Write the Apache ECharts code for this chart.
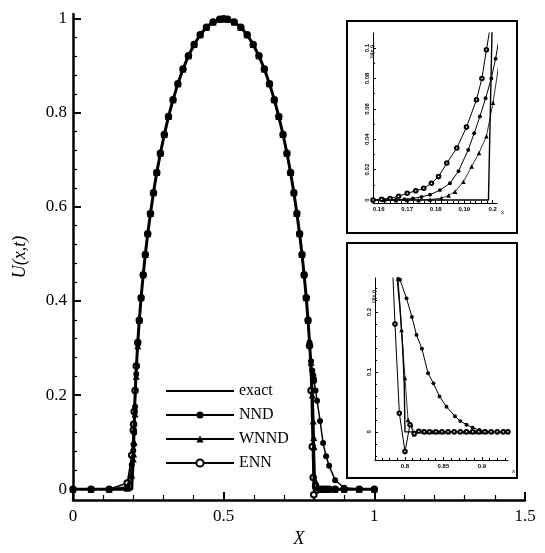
<!DOCTYPE html>
<html>
<head>
<meta charset="utf-8">
<script src="https://cdn.jsdelivr.net/npm/echarts@6/dist/echarts.min.js"></script>
<style>html,body{margin:0;padding:0;background:#fff}#c{width:545px;height:553px}</style>
</head>
<body>
<div id="c"></div>
<script>
// ---------- main plot data ----------
const xMain = [0, 0.06, 0.12, 0.18, 0.195, 0.2, 0.201, 0.203, 0.206, 0.21, 0.215, 0.22, 0.226, 0.233, 0.24, 0.248, 0.257, 0.267, 0.278, 0.29, 0.303, 0.317, 0.332, 0.348, 0.365, 0.383, 0.402, 0.422, 0.443, 0.465, 0.487, 0.5, 0.513, 0.535, 0.557, 0.578, 0.598, 0.617, 0.635, 0.652, 0.668, 0.683, 0.697, 0.71, 0.722, 0.733, 0.743, 0.752, 0.76, 0.767, 0.774, 0.78, 0.785, 0.79, 0.794, 0.797, 0.799, 0.8, 0.805, 0.81, 0.82, 0.83, 0.84, 0.85, 0.87, 0.9, 0.95, 1.0];
const exactU = [0, 0, 0, 0, 0, 0, 0.082, 0.141, 0.199, 0.256, 0.312, 0.359, 0.407, 0.456, 0.499, 0.543, 0.586, 0.630, 0.673, 0.714, 0.754, 0.792, 0.828, 0.862, 0.893, 0.921, 0.945, 0.966, 0.982, 0.993, 0.999, 1.0, 0.999, 0.993, 0.982, 0.966, 0.945, 0.921, 0.893, 0.862, 0.828, 0.792, 0.754, 0.714, 0.673, 0.630, 0.586, 0.543, 0.499, 0.456, 0.407, 0.359, 0.312, 0.256, 0.199, 0.141, 0.082, 0, 0, 0, 0, 0, 0, 0, 0, 0, 0, 0];
const nndU = [0, 0, 0, 0.005, 0.052, 0.082, 0.095, 0.12, 0.175, 0.245, 0.308, 0.359, 0.407, 0.456, 0.499, 0.543, 0.586, 0.630, 0.673, 0.714, 0.754, 0.792, 0.828, 0.862, 0.893, 0.921, 0.945, 0.966, 0.982, 0.993, 0.999, 1.0, 0.999, 0.993, 0.982, 0.966, 0.945, 0.921, 0.893, 0.862, 0.828, 0.792, 0.754, 0.714, 0.673, 0.630, 0.586, 0.543, 0.499, 0.456, 0.407, 0.359, 0.312, 0.272, 0.252, 0.242, 0.235, 0.23, 0.21, 0.188, 0.145, 0.098, 0.07, 0.05, 0.019, 0.003, 0, 0];
const wnndU = [0, 0, 0, 0.002, 0.03, 0.064, 0.075, 0.1, 0.16, 0.24, 0.305, 0.359, 0.407, 0.456, 0.499, 0.543, 0.586, 0.630, 0.673, 0.714, 0.754, 0.792, 0.828, 0.862, 0.893, 0.921, 0.945, 0.966, 0.982, 0.993, 0.999, 1.0, 0.999, 0.993, 0.982, 0.966, 0.945, 0.921, 0.893, 0.862, 0.828, 0.792, 0.754, 0.714, 0.673, 0.630, 0.586, 0.543, 0.499, 0.456, 0.407, 0.359, 0.312, 0.27, 0.2, 0.145, 0.11, 0.09, 0.018, 0.004, 0, 0, 0, 0, 0, 0, 0, 0];
const ennU = [0, 0, 0, 0.013, 0.072, 0.125, 0.138, 0.165, 0.21, 0.262, 0.312, 0.359, 0.407, 0.456, 0.499, 0.543, 0.586, 0.630, 0.673, 0.714, 0.754, 0.792, 0.828, 0.862, 0.893, 0.921, 0.945, 0.966, 0.982, 0.993, 0.999, 1.0, 0.999, 0.993, 0.982, 0.966, 0.945, 0.921, 0.893, 0.862, 0.828, 0.792, 0.754, 0.714, 0.673, 0.630, 0.586, 0.543, 0.499, 0.456, 0.407, 0.359, 0.305, 0.21, 0.09, 0.025, -0.012, -0.025, 0.006, -0.002, 0, 0, 0, 0, 0, 0, 0, 0];

// ---------- upper inset (left foot, x 0.16..0.2) ----------
const exactTop = [[0.158, 0], [0.1985, 0], [0.1998, 0.115]];
const nndTop = [[0.158, 0], [0.162, 0], [0.166, 0], [0.169, 0.0005], [0.172, 0.001], [0.175, 0.002], [0.178, 0.0035], [0.1815, 0.0065], [0.185, 0.011], [0.188, 0.019], [0.1914, 0.033], [0.1935, 0.044], [0.1955, 0.055], [0.1975, 0.067], [0.1995, 0.08], [0.201, 0.093], [0.2022, 0.106]];
const wnndTop = [[0.158, 0], [0.162, 0], [0.166, 0], [0.17, 0], [0.174, 0], [0.178, 0.0003], [0.182, 0.0012], [0.1845, 0.003], [0.1868, 0.0055], [0.1897, 0.012], [0.1926, 0.022], [0.1952, 0.031], [0.1978, 0.042], [0.2001, 0.064], [0.2018, 0.085], [0.2036, 0.108]];
const ennTop = [[0.158, 0], [0.161, 0.0005], [0.164, 0.001], [0.167, 0.0025], [0.170, 0.0044], [0.173, 0.006], [0.1758, 0.0077], [0.1785, 0.011], [0.181, 0.0154], [0.1839, 0.0243], [0.1874, 0.0342], [0.1908, 0.048], [0.1943, 0.066], [0.1962, 0.08], [0.1978, 0.099], [0.1992, 0.115]];
const topXLabels = [0.16, 0.17, 0.18, 0.19, 0.2];
const topYLabels = [0, 0.02, 0.04, 0.06, 0.08, 0.1];

// ---------- lower inset (shock, x 0.8..0.9) ----------
const exactBot = [[0.785, 0.312], [0.79, 0.256], [0.794, 0.199], [0.797, 0.141], [0.799, 0.082], [0.8, 0], [0.934, 0]];
const nndBot = [[0.79, 0.27], [0.7935, 0.254], [0.802, 0.223], [0.809, 0.192], [0.815, 0.162], [0.822, 0.139], [0.830, 0.098], [0.837, 0.081], [0.845, 0.059], [0.854, 0.042], [0.865, 0.026], [0.872, 0.018], [0.880, 0.012], [0.888, 0.007], [0.897, 0.003], [0.905, 0.001], [0.913, 0], [0.92, 0], [0.927, 0], [0.934, 0]];
const wnndBot = [[0.789, 0.30], [0.791, 0.256], [0.7955, 0.17], [0.800, 0.09], [0.804, 0.02], [0.808, 0.012], [0.812, -0.004], [0.818, 0.002], [0.824, 0], [0.83, 0], [0.836, 0], [0.843, 0], [0.85, 0], [0.857, 0], [0.864, 0], [0.871, 0], [0.878, 0], [0.885, 0], [0.892, 0], [0.899, 0], [0.906, 0], [0.913, 0], [0.92, 0], [0.927, 0], [0.934, 0]];
const ennBot = [[0.783, 0.30], [0.787, 0.18], [0.7927, 0.031], [0.8, -0.033], [0.8065, 0.012], [0.812, -0.003], [0.818, 0.001], [0.825, 0], [0.832, 0], [0.84, 0], [0.848, 0], [0.856, 0], [0.864, 0], [0.872, 0], [0.88, 0], [0.888, 0], [0.896, 0], [0.904, 0], [0.912, 0], [0.92, 0], [0.928, 0], [0.934, 0]];
const botXLabels = [0.8, 0.85, 0.9];
const botYLabels = [0, 0.1, 0.2];

// main ticks
const mainYLabels = [0, 0.2, 0.4, 0.6, 0.8, 1];
const mainYMinor = [0.04, 0.08, 0.12, 0.16, 0.24, 0.28, 0.32, 0.36, 0.44, 0.48, 0.52, 0.56, 0.64, 0.68, 0.72, 0.76, 0.84, 0.88, 0.92, 0.96];

const serif = 'Liberation Serif';
const pair = (u) => xMain.map((x, i) => [x, u[i]]);
function minorList(a, b, step) { const r = []; for (let v = a; v <= b + 1e-9; v += step) r.push(+v.toFixed(4)); return r; }

const black = '#000';
function mkAxis(o) {
  return Object.assign({
    type: 'value', splitLine: { show: false },
    axisLine: { show: true, onZero: false, lineStyle: { color: black, width: 1 } },
    axisTick: { show: true, inside: true, lineStyle: { color: black } },
    axisLabel: { color: black }
  }, o);
}
const hiddenLine = { show: false, onZero: false };

const insetLabel = { color: black, fontSize: 6, fontFamily: 'Liberation Sans', fontWeight: 'bold', margin: 3 };

const xAxis = [
  mkAxis({ gridIndex: 0, position: 'bottom', min: 0, max: 1.5, interval: 0.5,
    axisLine: { show: true, onZero: false, lineStyle: { color: black, width: 2.5 } },
    axisTick: { show: true, inside: true, length: 8, lineStyle: { color: black, width: 2 } },
    minorTick: { show: true, splitNumber: 5, length: 5, lineStyle: { color: black, width: 1.2 } },
    axisLabel: { color: black, fontFamily: serif, fontSize: 17, margin: 8 },
    name: 'X', nameLocation: 'middle', nameGap: 30,
    nameTextStyle: { fontFamily: serif, fontSize: 18, fontStyle: 'italic', color: black } }),
  mkAxis({ gridIndex: 1, position: 'bottom', min: 0.158, max: 0.2015,
    axisTick: { show: true, inside: true, length: 3, customValues: topXLabels, lineStyle: { color: black } },
    axisLabel: Object.assign({ customValues: topXLabels }, insetLabel),
    name: 'x', nameLocation: 'end', nameGap: 4, nameTextStyle: { fontSize: 6, color: black, verticalAlign: 'top', padding: [6, 0, 0, 0] } }),
  mkAxis({ gridIndex: 1, position: 'bottom', min: 0.158, max: 0.2015, axisLine: hiddenLine,
    axisTick: { show: true, inside: true, length: 2, customValues: minorList(0.16, 0.2, 0.002), lineStyle: { color: black } },
    axisLabel: { show: false } }),
  mkAxis({ gridIndex: 2, position: 'bottom', min: 0.761, max: 0.934,
    axisTick: { show: true, inside: true, length: 3, customValues: botXLabels, lineStyle: { color: black } },
    axisLabel: Object.assign({ customValues: botXLabels }, insetLabel),
    name: 'x', nameLocation: 'end', nameGap: 4, nameTextStyle: { fontSize: 6, color: black, verticalAlign: 'top', padding: [8, 0, 0, 0] } }),
  mkAxis({ gridIndex: 2, position: 'bottom', min: 0.761, max: 0.934, axisLine: hiddenLine,
    axisTick: { show: true, inside: true, length: 2, customValues: minorList(0.77, 0.93, 0.01), lineStyle: { color: black } },
    axisLabel: { show: false } })
];

const yAxis = [
  mkAxis({ gridIndex: 0, min: -0.023, max: 1.01, position: 'left',
    axisLine: { show: true, onZero: false, lineStyle: { color: black, width: 2.5 } },
    axisTick: { show: true, inside: true, length: 8, customValues: mainYLabels, lineStyle: { color: black, width: 2 } },
    axisLabel: { color: black, fontFamily: serif, fontSize: 17, margin: 6, customValues: mainYLabels },
    name: 'U(x,t)', nameLocation: 'middle', nameGap: 44, nameRotate: 90,
    nameTextStyle: { fontFamily: serif, fontSize: 18, fontStyle: 'italic', color: black } }),
  mkAxis({ gridIndex: 0, min: -0.023, max: 1.01, position: 'left', axisLine: hiddenLine,
    axisTick: { show: true, inside: true, length: 4, customValues: mainYMinor, lineStyle: { color: black, width: 1.2 } },
    axisLabel: { show: false } }),
  mkAxis({ gridIndex: 1, min: -0.002, max: 0.11, position: 'left',
    axisTick: { show: true, inside: true, length: 3, customValues: topYLabels, lineStyle: { color: black } },
    axisLabel: Object.assign({ customValues: topYLabels, rotate: 90 }, insetLabel),
    name: 'U(x,t)', nameLocation: 'end', nameGap: -12, nameRotate: 90,
    nameTextStyle: { fontSize: 5, color: black, fontWeight: 'bold', align: 'right', padding: [0, 0, 14, 0] } }),
  mkAxis({ gridIndex: 1, min: -0.002, max: 0.11, position: 'left', axisLine: hiddenLine,
    axisTick: { show: true, inside: true, length: 2, customValues: minorList(0.01, 0.1, 0.01), lineStyle: { color: black } },
    axisLabel: { show: false } }),
  mkAxis({ gridIndex: 2, min: -0.047, max: 0.257, position: 'left',
    axisTick: { show: true, inside: true, length: 3, customValues: botYLabels, lineStyle: { color: black } },
    axisLabel: Object.assign({ customValues: botYLabels, rotate: 90 }, insetLabel),
    name: 'U(x,t)', nameLocation: 'end', nameGap: -12, nameRotate: 90,
    nameTextStyle: { fontSize: 5, color: black, fontWeight: 'bold', align: 'right', padding: [0, 0, 14, 0] } }),
  mkAxis({ gridIndex: 2, min: -0.047, max: 0.257, position: 'left', axisLine: hiddenLine,
    axisTick: { show: true, inside: true, length: 2, customValues: minorList(-0.04, 0.25, 0.02), lineStyle: { color: black } },
    axisLabel: { show: false } })
];

function lineSeries(name, data, xi, yi, kind, big, z) {
  const s = { type: 'line', name, data, xAxisIndex: xi, yAxisIndex: yi, clip: true,
    color: black, z: z, animation: false, silent: true };
  const k = big ? 1 : 0.65;
  if (kind === 'exact') {
    Object.assign(s, { symbol: 'none', lineStyle: { color: black, width: big ? 3 : 1.4 } });
  } else if (kind === 'nnd') {
    Object.assign(s, { symbol: 'circle', symbolSize: 6 * k, showAllSymbol: true,
      lineStyle: { color: black, width: big ? 1.5 : 1 }, itemStyle: { color: black } });
  } else if (kind === 'wnnd') {
    Object.assign(s, { symbol: 'triangle', symbolSize: 7 * k, showAllSymbol: true,
      lineStyle: { color: black, width: big ? 1 : 0.8 }, itemStyle: { color: black } });
  } else {
    Object.assign(s, { symbol: 'emptyCircle', symbolSize: 5.5 * k, showAllSymbol: true,
      lineStyle: { color: black, width: big ? 1.5 : 1 }, itemStyle: { color: black, borderWidth: 1.2 } });
  }
  return s;
}

// legend order taken from legend.data; drawing order via z (ENN lowest, NND on top of markers)
const series = [
  lineSeries('exact', pair(exactU), 0, 0, 'exact', true, 6),
  lineSeries('NND', pair(nndU), 0, 0, 'nnd', true, 5),
  lineSeries('WNND', pair(wnndU), 0, 0, 'wnnd', true, 4),
  lineSeries('ENN', pair(ennU), 0, 0, 'enn', true, 3),
  lineSeries('exact', exactTop, 1, 2, 'exact', false, 3),
  lineSeries('NND', nndTop, 1, 2, 'nnd', false, 3),
  lineSeries('WNND', wnndTop, 1, 2, 'wnnd', false, 3),
  lineSeries('ENN', ennTop, 1, 2, 'enn', false, 3),
  lineSeries('exact', exactBot, 3, 4, 'exact', false, 3),
  lineSeries('NND', nndBot, 3, 4, 'nnd', false, 3),
  lineSeries('WNND', wnndBot, 3, 4, 'wnnd', false, 3),
  lineSeries('ENN', ennBot, 3, 4, 'enn', false, 3)
];

const chart = echarts.init(document.getElementById('c'), null, { renderer: 'canvas' });
chart.setOption({
  backgroundColor: '#fff',
  animation: false,
  grid: [
    { left: 73, right: 20, top: 14, bottom: 47 },
    { left: 373, top: 33, width: 124, height: 170 },
    { left: 375, top: 278, width: 133, height: 182 }
  ],
  xAxis, yAxis, series,
  legend: {
    orient: 'vertical', left: 160, top: 378, itemWidth: 68, itemHeight: 9, itemGap: 8,
    textStyle: { fontFamily: serif, fontSize: 16, color: black },
    selectedMode: false,
    data: [{ name: 'exact', itemStyle: { opacity: 0 } }, 'NND', 'WNND', 'ENN']
  },
  graphic: [
    { type: 'rect', shape: { x: 347, y: 21, width: 170, height: 212 }, style: { fill: 'none', stroke: black, lineWidth: 2 } },
    { type: 'rect', shape: { x: 347, y: 243, width: 170, height: 235 }, style: { fill: 'none', stroke: black, lineWidth: 2 } }
  ]
});
</script>
</body>
</html>
